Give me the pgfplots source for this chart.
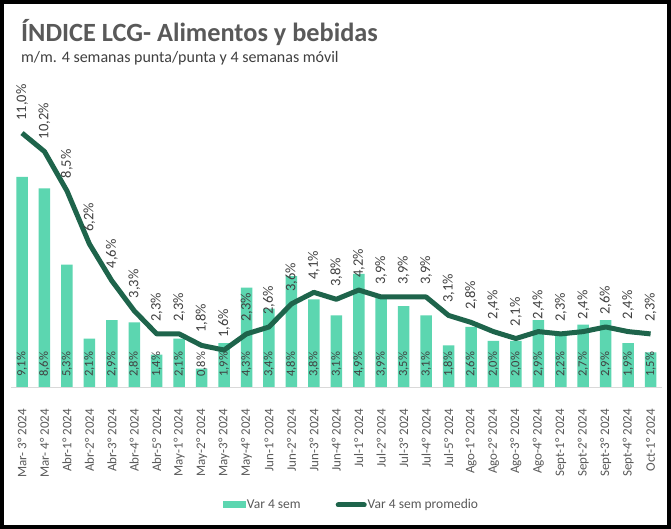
\documentclass[border=0pt]{standalone}
\usepackage{fontspec}
\setmainfont{Carlito}
\usepackage{pgfplots}
\pgfplotsset{compat=1.18}
\usepackage{pgfplotstable}

\definecolor{barc}{HTML}{5CD6B0}
\definecolor{linec}{HTML}{1E644B}
\definecolor{txt}{HTML}{404040}
\definecolor{tickc}{HTML}{595959}
\definecolor{axc}{HTML}{D9D9D9}

\pgfplotstableread{
x bar avg
0 9.1 11.0
1 8.6 10.2
2 5.3 8.5
3 2.1 6.2
4 2.9 4.6
5 2.8 3.3
6 1.4 2.3
7 2.1 2.3
8 0.8 1.8
9 1.9 1.6
10 4.3 2.3
11 3.4 2.6
12 4.8 3.6
13 3.8 4.1
14 3.1 3.8
15 4.9 4.2
16 3.9 3.9
17 3.5 3.9
18 3.1 3.9
19 1.8 3.1
20 2.6 2.8
21 2.0 2.4
22 2.0 2.1
23 2.9 2.4
24 2.2 2.3
25 2.7 2.4
26 2.9 2.6
27 1.9 2.4
28 1.5 2.3
}\data

\newcommand{\pct}{\pgfmathprintnumber[fixed,fixed zerofill,precision=1,use comma,assume math mode=true]{\pgfplotspointmeta}\%}

\begin{document}
\begin{tikzpicture}[x=1bp,y=1bp]
\useasboundingbox (0,0) rectangle (671,529);
\fill[white] (0,0) rectangle (671,529);
\node[anchor=base west, inner sep=0pt, font=\fontsize{26.3bp}{26bp}\selectfont\bfseries, text=tickc] at (21,487) {ÍNDICE LCG- Alimentos y bebidas};
\node[anchor=base west, inner sep=0pt, font=\fontsize{16bp}{16bp}\selectfont, text=txt] at (21,466) {m/m. 4 semanas punta/punta y 4 semanas móvil};
\begin{axis}[
  at={(10.8bp,142bp)}, anchor=south west,
  scale only axis, width=651bp, height=277bp,
  xmin=-0.5, xmax=28.5, ymin=0, ymax=12,
  axis y line=none, axis x line*=bottom,
  x axis line style={draw=axc, line width=0.8bp},
  xtick=data, major tick length=0pt, xtick style={draw=none},
  xticklabels={Mar- 3° 2024, Mar- 4° 2024, Abr-1° 2024, Abr-2° 2024, Abr-3° 2024, Abr-4° 2024, Abr-5° 2024, May-1° 2024, May-2° 2024, May-3° 2024, May-4° 2024, Jun-1° 2024, Jun-2° 2024, Jun-3° 2024, Jun-4° 2024, Jul-1° 2024, Jul-2° 2024, Jul-3° 2024, Jul-4° 2024, Jul-5° 2024, Ago-1° 2024, Ago-2° 2024, Ago-3° 2024, Ago-4° 2024, Sept-1° 2024, Sept-2° 2024, Sept-3° 2024, Sept-4° 2024, Oct-1° 2024},
  xticklabel style={rotate=90, anchor=east, inner xsep=22bp, inner ysep=0pt, font=\fontsize{13bp}{13bp}\selectfont, text=tickc},
  clip=false,
  /pgf/number format/assume math mode=true,
  legend columns=2,
  legend style={at={(0.5226,-0.426)}, anchor=center, draw=none, fill=none,
    font=\fontsize{13.5bp}{13.5bp}\selectfont, text=tickc,
    nodes={inner sep=1bp},
    /tikz/every even column/.append style={column sep=34bp}},
]
\addplot[ybar, bar width=11.5bp, fill=barc, draw=none,
  legend image code/.code={\fill[barc] (0bp,-3.5bp) rectangle (23bp,3.5bp);}]
  table[x=x, y=bar]{\data};
\addlegendentry{Var 4 sem}
\addplot[linec, line width=5bp, line join=round, mark=none,
  point meta=explicit,
  nodes near coords={\pct},
  every node near coord/.append style={rotate=90, anchor=west, inner xsep=10bp, inner ysep=0pt, text=txt, font=\fontsize{14.5bp}{14.5bp}\selectfont},
  legend image code/.code={\draw[linec, line width=5bp, line cap=round] (0bp,0bp) -- (26bp,0bp);}]
  table[x=x, y=avg, meta=avg]{\data};
\addlegendentry{Var 4 sem promedio}
\addplot[draw=none, mark=none, forget plot,
  point meta=explicit,
  nodes near coords={\pct},
  every node near coord/.append style={rotate=90, anchor=west, inner xsep=10bp, inner ysep=0pt, text=txt, font=\fontsize{12.5bp}{12.5bp}\selectfont}]
  table[x=x, y expr=0, meta=bar]{\data};
\end{axis}
\draw[line width=4bp, black] (2,2) rectangle (669,527);
\end{tikzpicture}
\end{document}
